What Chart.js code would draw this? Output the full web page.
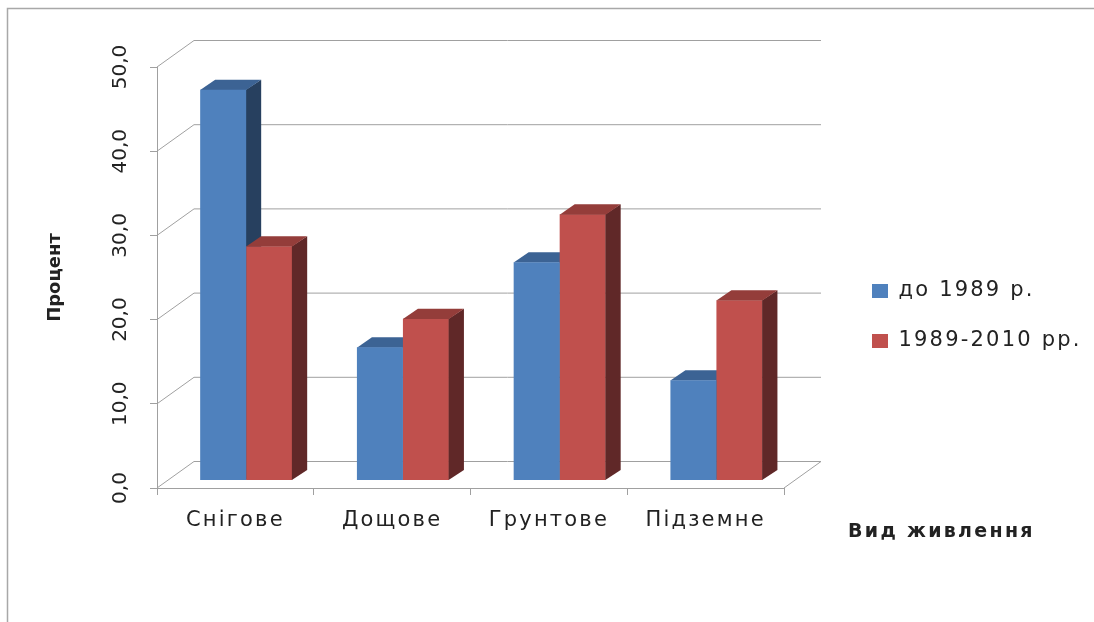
<!DOCTYPE html>
<html>
<head>
<meta charset="utf-8">
<script src="https://cdn.jsdelivr.net/npm/chart.js@4.4.1/dist/chart.umd.min.js"></script>
<style>
html,body{margin:0;padding:0;background:#ffffff;}
#wrap{width:1094px;height:622px;position:relative;}
</style>
</head>
<body>
<div id="wrap"><canvas id="c" width="1094" height="622"></canvas></div>
<script>
// ---------- data ----------
const categories = ['Снігове', 'Дощове', 'Грунтове', 'Підземне'];
const seriesNames = ['до 1989 р.', '1989-2010 рр.'];
const before1989 = [46.4, 15.8, 25.9, 11.9];
const after1989 = [27.8, 19.2, 31.6, 21.4];
const yTickValues = [0, 10, 20, 30, 40, 50];
const yAxisTitle = 'Процент';
const xAxisTitle = 'Вид живлення';

// ---------- style ----------
const FONT = "'DejaVu Sans', 'Open Sans', sans-serif";
const TEXT = '#222222';
const LINE = '#a0a0a0';
const FRONT = ['#4f81bd', '#c0504d'];
const TOP = ['#3c6394', '#943d3a'];
const SIDE = ['#27405f', '#602828'];
const WALL = {dx: 37, dy: -26.5};      // back wall offset from front axis plane
const BAR_SHIFT = {dx: 10.8, dy: -7.6}; // bar front plane offset
const BAR_DEPTH = {dx: 15, dy: -10};    // bar depth
const SPACING = '2.2px';

Chart.defaults.font.family = FONT;
Chart.defaults.color = TEXT;

const LEG_FONT = 21, LEG_PAD = 29, LEG_BOX = 16;
const mc = document.createElement('canvas').getContext('2d');
mc.font = 'normal ' + LEG_FONT + 'px ' + FONT;
mc.letterSpacing = SPACING;
const legTextW = Math.max(...seriesNames.map(s => mc.measureText(s).width));
const legendW = LEG_PAD + LEG_BOX + LEG_FONT / 2 + legTextW;
const padRight = Math.max(0, 1094 - 843 - legendW - 10);

function drawFaces(chart, di) {
  const ctx = chart.ctx;
  const meta = chart.getDatasetMeta(di);
  meta.data.forEach(el => {
    const p = el.getProps(['x', 'y', 'base', 'width'], true);
    const l = p.x - p.width / 2, r = p.x + p.width / 2;
    ctx.fillStyle = SIDE[di];
    ctx.beginPath();
    ctx.moveTo(r - 0.3, p.y);
    ctx.lineTo(r + BAR_DEPTH.dx, p.y + BAR_DEPTH.dy);
    ctx.lineTo(r + BAR_DEPTH.dx, p.base + BAR_DEPTH.dy);
    ctx.lineTo(r - 0.3, p.base);
    ctx.closePath();
    ctx.fill();
    ctx.fillStyle = TOP[di];
    ctx.beginPath();
    ctx.moveTo(l, p.y + 0.3);
    ctx.lineTo(r, p.y + 0.3);
    ctx.lineTo(r + BAR_DEPTH.dx, p.y + BAR_DEPTH.dy);
    ctx.lineTo(l + BAR_DEPTH.dx, p.y + BAR_DEPTH.dy);
    ctx.closePath();
    ctx.fill();
  });
}

function noSpacing(scale, name) {
  const orig = scale[name];
  scale[name] = function () {
    const ctx = this.ctx;
    const prev = ctx.letterSpacing;
    ctx.letterSpacing = '0px';
    orig.apply(this, arguments);
    ctx.letterSpacing = prev;
  };
}

const threeD = {
  id: 'threeD',
  beforeUpdate(chart) { chart.ctx.letterSpacing = SPACING; },
  beforeLayout(chart) { chart.ctx.letterSpacing = SPACING; },
  beforeDraw(chart) {
    const ctx = chart.ctx;
    ctx.save();
    ctx.strokeStyle = '#a8a8a8';
    ctx.lineWidth = 1.5;
    ctx.beginPath();
    ctx.moveTo(7.5, 640);
    ctx.lineTo(7.5, 8.5);
    ctx.lineTo(1100, 8.5);
    ctx.stroke();
    ctx.restore();
    const ys = chart.scales.y;
    if (!ys._noSp) {
      noSpacing(ys, 'drawLabels');
      noSpacing(ys, 'drawTitle');
      ys._noSp = true;
    }
    ctx.letterSpacing = SPACING;
  },
  beforeDatasetsDraw(chart) {
    const ctx = chart.ctx, ys = chart.scales.y, a = chart.chartArea;
    ctx.save();
    ctx.strokeStyle = LINE;
    ctx.lineWidth = 1;
    ctx.beginPath();
    yTickValues.forEach(v => {
      const py = ys.getPixelForValue(v);
      ctx.moveTo(a.left, py);
      ctx.lineTo(a.left + WALL.dx, py + WALL.dy);
      ctx.lineTo(a.right + WALL.dx, py + WALL.dy);
    });
    const by = ys.getPixelForValue(0);
    ctx.moveTo(a.right, by);
    ctx.lineTo(a.right + WALL.dx, by + WALL.dy);
    ctx.stroke();
    ctx.restore();
    ctx.save();
    ctx.translate(BAR_SHIFT.dx, BAR_SHIFT.dy);
    drawFaces(chart, 0);
  },
  afterDatasetsDraw(chart) {
    drawFaces(chart, 1);
    chart.ctx.restore();
  },
  afterDraw(chart) {
    const ctx = chart.ctx, a = chart.chartArea;
    ctx.save();
    ctx.letterSpacing = '2.3px';
    ctx.font = 'bold 19px ' + FONT;
    ctx.fillStyle = TEXT;
    ctx.textAlign = 'left';
    ctx.textBaseline = 'alphabetic';
    ctx.fillText(xAxisTitle, a.right + 64, a.bottom + 48.7);
    ctx.restore();
  }
};

new Chart(document.getElementById('c'), {
  type: 'bar',
  data: {
    labels: categories,
    datasets: [
      {label: seriesNames[0], data: before1989, backgroundColor: FRONT[0], borderWidth: 0,
       barPercentage: 1, categoryPercentage: 0.587, clip: false},
      {label: seriesNames[1], data: after1989, backgroundColor: FRONT[1], borderWidth: 0,
       barPercentage: 1, categoryPercentage: 0.587, clip: false}
    ]
  },
  options: {
    responsive: false,
    devicePixelRatio: 1,
    animation: false,
    events: [],
    layout: {padding: {top: 67, bottom: 57, left: 10, right: padRight}},
    plugins: {
      tooltip: {enabled: false},
      legend: {
        position: 'right',
        align: 'center',
        labels: {
          boxWidth: LEG_BOX, boxHeight: 14, padding: LEG_PAD,
          font: {size: LEG_FONT}, color: TEXT
        }
      }
    },
    scales: {
      x: {
        grid: {display: true, drawOnChartArea: false, drawTicks: true, tickLength: 7, color: LINE, offset: true},
        border: {display: true, color: LINE, width: 1},
        ticks: {font: {size: 21}, color: TEXT, padding: 13, maxRotation: 0, minRotation: 0, autoSkip: false},
        afterFit(s) { s.height = 77; }
      },
      y: {
        min: 0, max: 50,
        afterBuildTicks(s) { s.ticks = yTickValues.map(v => ({value: v})); },
        grid: {display: true, drawOnChartArea: false, drawTicks: true, tickLength: 7, color: LINE},
        border: {display: true, color: LINE, width: 1},
        ticks: {
          font: {size: 20}, color: TEXT, padding: 2.4, crossAlign: 'center',
          minRotation: 90, maxRotation: 90,
          callback: v => v.toFixed(1).replace('.', ',')
        },
        title: {display: true, text: yAxisTitle, font: {size: 18, weight: 'bold'}, color: TEXT,
                padding: {top: 35, bottom: 0}},
        afterFit(s) { s.width = 147; }
      },
      gap: {
        type: 'linear', position: 'right', display: false,
        afterFit(s) { s.width = 59; }
      }
    }
  },
  plugins: [threeD]
});
</script>
</body>
</html>
